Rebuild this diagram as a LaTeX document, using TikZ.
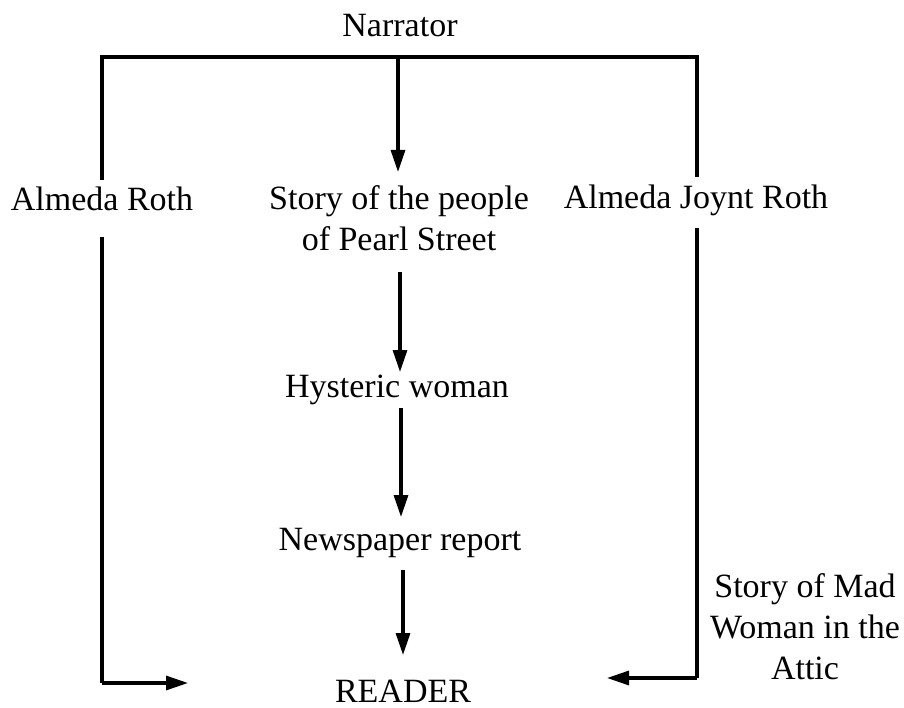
\documentclass[tikz,border=0pt]{standalone}
\usepackage{fontspec}
\setmainfont{Liberation Serif}
\usetikzlibrary{arrows.meta}
\begin{document}
\begin{tikzpicture}[x=1pt,y=-1pt,
  lbl/.style={font=\fontsize{34}{41}\selectfont, align=center, inner sep=0pt, anchor=base},
  link/.style={line width=3.2pt},
  flow/.style={link, -{Triangle[length=22pt,width=14pt]}}]
\useasboundingbox[fill=white] (0,0) rectangle (904,708);

% labels (placed by the baseline of their last line)
\node[lbl] (narr)   at (400,37)  {Narrator};
\node[lbl] (ar)     at (102,211) {Almeda Roth};
\node[lbl] (story)  at (399,251) {Story of the people\\of Pearl Street};
\node[lbl] (ajr)    at (696,209) {Almeda Joynt Roth};
\node[lbl] (hyst)   at (397,397) {Hysteric woman};
\node[lbl] (news)   at (400,550) {Newspaper report};
\node[lbl] (reader) at (403,702) {READER};
\node[lbl] (mad)    at (805,679) {Story of Mad\\Woman in the\\Attic};

% bracket under the narrator
\coordinate (tl) at (102,57);
\coordinate (tc) at (398,57);
\coordinate (tr) at (697,57);
\coordinate (tlend) at (102,180);
\coordinate (trend) at (697,177);
\coordinate (tcend) at (398,172);
\draw[link] (tlend) -- (tl) -- (tr) -- (trend);
\draw[flow] (tc) -- (tcend);

% side branches to the reader
\coordinate (lstart) at (102,237);
\coordinate (lcorner) at (102,683);
\coordinate (ltip) at (188,683);
\coordinate (rstart) at (697,228);
\coordinate (rcorner) at (697,678);
\coordinate (rtip) at (607,678);
\draw[link] (lstart) -- (lcorner);
\draw[flow] (lcorner) -- (ltip);
\draw[link] (rstart) -- (rcorner);
\draw[flow] (rcorner) -- (rtip);

% central chain
\coordinate (a1s) at (400,272); \coordinate (a1e) at (400,372);
\coordinate (a2s) at (401,408); \coordinate (a2e) at (401,517);
\coordinate (a3s) at (403,570); \coordinate (a3e) at (403,655);
\draw[flow] (a1s) -- (a1e);
\draw[flow] (a2s) -- (a2e);
\draw[flow] (a3s) -- (a3e);
\end{tikzpicture}
\end{document}
